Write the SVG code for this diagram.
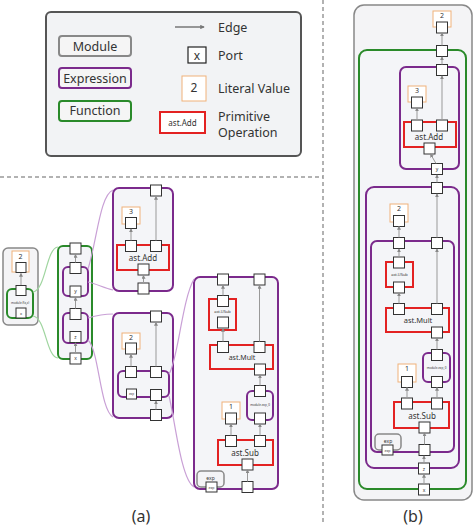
<svg xmlns="http://www.w3.org/2000/svg" width="474" height="527" viewBox="0 0 474 527">
<style>
text{font-family:"Noto Sans","Open Sans","DejaVu Sans",sans-serif;fill:#333;text-anchor:middle}
.lt{text-anchor:start;font-size:12.5px}
.mod{fill:#f4f4f6;stroke:#888;stroke-width:1.5}
.fn{fill:#f4f5f8;stroke:#2a8a2a;stroke-width:2}
.ex{fill:#f4f5f8;stroke:#7b2a8c;stroke-width:2}
.op{fill:#f4f5f8;stroke:#e32222;stroke-width:2}
.lit{fill:#fff;stroke:#f0b27a;stroke-width:1}
.port{fill:#fff;stroke:#333;stroke-width:1}
.e{stroke:#999;stroke-width:1;fill:none;marker-end:url(#ah)}
.zg{stroke:#9fd59f;stroke-width:1.2;fill:none}
.zp{stroke:#c9a0d6;stroke-width:1.2;fill:none}
.dash{stroke:#999;stroke-width:1.5;stroke-dasharray:4,3;fill:none}
.t{font-size:7px}
.tiny{font-size:3px}
</style>
<defs>
<marker id="ah" viewBox="0 0 6 6" refX="5" refY="3" markerWidth="4" markerHeight="4" orient="auto">
<path d="M0,0L6,3L0,6z" fill="#888"/>
</marker>
<marker id="ahl" viewBox="0 0 6 6" refX="5" refY="3" markerWidth="3" markerHeight="3" orient="auto">
<path d="M0,0L6,3L0,6z" fill="#777"/>
</marker>
</defs>

<g id="dividers">
<path class="dash" d="M0,177H323"/>
<path class="dash" d="M323,0V522"/>
</g>

<g id="legend">
<rect x="46" y="12" width="255" height="144" rx="5" fill="#f2f3f5" stroke="#555" stroke-width="2"/>
<rect x="59" y="36" width="72" height="20" rx="3" fill="#f5f5f5" stroke="#888" stroke-width="2"/>
<text x="95" y="51" style="font-size:12.5px">Module</text>
<rect x="59" y="68" width="72" height="20" rx="3" fill="#f5f5f5" stroke="#7b2a8c" stroke-width="2"/>
<text x="95" y="83" style="font-size:12.5px">Expression</text>
<rect x="59" y="101" width="72" height="20" rx="3" fill="#f5f5f5" stroke="#2a8a2a" stroke-width="2"/>
<text x="95" y="115" style="font-size:12.5px">Function</text>
<path d="M175,27H204" stroke="#777" stroke-width="1.5" marker-end="url(#ahl)"/>
<text class="lt" x="218" y="32">Edge</text>
<rect x="188" y="47" width="18" height="16" fill="#fff" stroke="#222" stroke-width="1.2"/>
<text x="197" y="60" style="font-size:12px">x</text>
<text class="lt" x="218" y="60">Port</text>
<rect x="182" y="76" width="24" height="25" class="lit"/>
<text x="194" y="92" style="font-size:12px">2</text>
<text class="lt" x="218" y="93">Literal Value</text>
<rect x="160" y="112" width="45" height="21" fill="#fff" stroke="#e32222" stroke-width="2"/>
<text x="182.5" y="126" style="font-size:8px">ast.Add</text>
<text class="lt" x="218" y="121">Primitive</text>
<text class="lt" x="218" y="137">Operation</text>
</g>

<g id="a-module">
<rect class="mod" x="3" y="248" width="35" height="77" rx="5"/>
<rect class="lit" x="12" y="251" width="17" height="21"/>
<text class="t" x="20.5" y="258.5">2</text>
<rect class="port" x="16" y="262.5" width="10" height="10"/>
</g>
<g id="a-module-f">
<rect class="fn" x="7" y="289" width="26" height="29" rx="5"/>
<rect class="port" x="16" y="285.5" width="10" height="10"/>
<text class="tiny" x="20" y="304">module.f(x,z)</text>
<rect class="port" x="16" y="308" width="10" height="10"/>
<text class="tiny" x="21" y="314.5" style="font-size:4px">x</text>
</g>

<g id="a-function">
<rect class="fn" x="58" y="246" width="34" height="113" rx="5"/>
<rect class="port" x="70" y="243" width="11" height="11"/>
<rect class="port" x="70" y="353" width="11" height="11"/>
<text x="75.5" y="360" style="font-size:5px">x</text>
</g>
<g id="a-expr1">
<rect class="ex" x="63" y="267" width="25" height="29" rx="5"/>
<rect class="port" x="70" y="262.5" width="11" height="11"/>
<rect class="port" x="70" y="286" width="11" height="11"/>
<text x="75.5" y="293" style="font-size:5px">y</text>
</g>
<g id="a-expr2">
<rect class="ex" x="63" y="313" width="25" height="30" rx="5"/>
<rect class="port" x="70" y="308.5" width="11" height="11"/>
<rect class="port" x="70" y="331.5" width="11" height="11"/>
<text x="75.5" y="338.5" style="font-size:5px">z</text>
</g>

<g id="a-add-expr">
<rect class="ex" x="113" y="188" width="60" height="103" rx="6"/>
<rect class="port" x="150.5" y="185" width="11" height="11"/>
<rect class="lit" x="122" y="207" width="18" height="17"/>
<text class="t" x="131" y="214">3</text>
<rect class="port" x="125.5" y="217.5" width="11" height="11"/>
<rect class="port" x="138" y="283" width="11" height="11"/>
</g>
<g id="a-add">
<rect class="op" x="117" y="245" width="52" height="25"/>
<rect class="port" x="125.5" y="240.5" width="11" height="11"/>
<rect class="port" x="150.5" y="240.5" width="11" height="11"/>
<rect class="port" x="138" y="264" width="11" height="11"/>
<text x="143" y="261" style="font-size:8px">ast.Add</text>
</g>

<g id="a-expr-2">
<rect class="ex" x="113" y="313" width="60" height="105" rx="6"/>
<rect class="port" x="150.5" y="311" width="11" height="11"/>
<rect class="lit" x="122" y="333" width="18" height="16"/>
<text class="t" x="131" y="340">2</text>
<rect class="port" x="125.5" y="343" width="11" height="11"/>
<rect class="port" x="150.5" y="409.5" width="11" height="11"/>
</g>
<g id="a-inner-expr">
<rect class="ex" x="118" y="371" width="51" height="26" rx="5"/>
<rect class="port" x="125.5" y="366.5" width="11" height="11"/>
<rect class="port" x="150.5" y="366.5" width="11" height="11"/>
<rect class="port" x="126.5" y="389" width="10" height="10"/>
<text class="tiny" x="131.5" y="395">exp</text>
<rect class="port" x="150.5" y="389.5" width="11" height="11"/>
</g>

<g id="a-big-expr">
<rect class="ex" x="194" y="277" width="84" height="212" rx="6"/>
<rect class="port" x="217.5" y="274" width="11" height="11"/>
<rect class="port" x="254" y="274" width="11" height="11"/>
<rect class="port" x="242" y="481.5" width="11" height="11"/>
</g>
<g id="a-usub">
<rect class="op" x="209" y="299" width="27" height="31"/>
<rect class="port" x="217.5" y="295.5" width="11" height="11"/>
<rect class="port" x="217.5" y="317" width="11" height="11"/>
<text class="tiny" x="222.5" y="313" style="font-size:4px">ast.USub</text>
</g>
<g id="a-mult">
<rect class="op" x="210" y="345" width="63" height="24"/>
<rect class="port" x="217.5" y="341.5" width="11" height="11"/>
<rect class="port" x="254" y="341.5" width="11" height="11"/>
<rect class="port" x="254.5" y="364" width="11" height="11"/>
<text x="242" y="360" style="font-size:7px">ast.Mult</text>
</g>
<g id="a-module-exp">
<rect class="ex" x="247" y="391" width="26" height="29" rx="5"/>
<rect class="port" x="254.5" y="385.5" width="11" height="11"/>
<rect class="port" x="254.5" y="413" width="11" height="11"/>
<text class="tiny" x="260" y="406">module.exp_0</text>
</g>
<g id="a-lit1">
<rect class="lit" x="222" y="402" width="18" height="17"/>
<text class="t" x="231" y="409">1</text>
<rect class="port" x="225.5" y="413" width="11" height="11"/>
</g>
<g id="a-sub">
<rect class="op" x="218" y="440" width="55" height="25"/>
<rect class="port" x="225.5" y="435.5" width="11" height="11"/>
<rect class="port" x="254.5" y="435.5" width="11" height="11"/>
<rect class="port" x="242" y="459" width="11" height="11"/>
<text x="245" y="456" style="font-size:8px">ast.Sub</text>
</g>
<g id="a-exp">
<rect class="mod" x="197" y="471" width="27" height="16" rx="4"/>
<text x="210.5" y="479.5" style="font-size:5px">exp</text>
<rect class="port" x="206" y="482" width="11" height="10"/>
<text class="tiny" x="211.5" y="488.5" style="font-size:3.5px">exp</text>
</g>

<text x="141" y="522" style="font-size:16px">(a)</text>

<g id="b-module">
<rect class="mod" x="354" y="5" width="118" height="495" rx="10"/>
<rect class="lit" x="433" y="11" width="18" height="16"/>
<text class="t" x="442" y="18">2</text>
<rect class="port" x="436.5" y="22" width="11" height="11"/>
</g>
<g id="b-function">
<rect class="fn" x="359" y="50" width="107" height="439" rx="8"/>
<rect class="port" x="436.5" y="45.5" width="11" height="11"/>
<rect class="port" x="418.5" y="484" width="11" height="11"/>
<text x="424" y="491.5" style="font-size:5px">x</text>
</g>
<g id="b-add-expr">
<rect class="ex" x="400" y="67" width="59" height="102" rx="6"/>
<rect class="port" x="436.5" y="64.5" width="11" height="11"/>
<rect class="lit" x="408" y="86" width="18" height="16"/>
<text class="t" x="417" y="93">3</text>
<rect class="port" x="411.5" y="97" width="11" height="11"/>
<rect class="port" x="431.5" y="163.5" width="11" height="11"/>
<text x="437" y="171" style="font-size:5px">y</text>
</g>
<g id="b-add">
<rect class="op" x="404" y="122" width="52" height="25"/>
<rect class="port" x="411.5" y="120" width="11" height="11"/>
<rect class="port" x="436.5" y="120" width="11" height="11"/>
<rect class="port" x="424" y="143" width="11" height="11"/>
<text x="429" y="140" style="font-size:8px">ast.Add</text>
</g>
<g id="b-expr2">
<rect class="ex" x="366" y="187" width="93" height="281" rx="8"/>
<rect class="port" x="431.5" y="182.5" width="11" height="11"/>
<rect class="lit" x="390" y="204" width="18" height="18"/>
<text class="t" x="399" y="211">2</text>
<rect class="port" x="393.5" y="215.5" width="11" height="11"/>
<rect class="port" x="418.5" y="463" width="11" height="11"/>
<text x="424" y="470.5" style="font-size:5px">z</text>
</g>
<g id="b-inner-expr">
<rect class="ex" x="371" y="241" width="83" height="211" rx="6"/>
<rect class="port" x="393.5" y="237.5" width="11" height="11"/>
<rect class="port" x="431.5" y="237.5" width="11" height="11"/>
<rect class="port" x="419" y="444.5" width="11" height="11"/>
</g>
<g id="b-usub">
<rect class="op" x="386" y="262" width="27" height="25"/>
<rect class="port" x="393.5" y="257" width="11" height="11"/>
<rect class="port" x="393.5" y="282" width="11" height="11"/>
<text class="tiny" x="399.5" y="276" style="font-size:4px">ast.USub</text>
</g>
<g id="b-mult">
<rect class="op" x="386" y="308" width="63" height="24"/>
<rect class="port" x="393.5" y="303.5" width="11" height="11"/>
<rect class="port" x="431.5" y="303.5" width="11" height="11"/>
<rect class="port" x="431.5" y="327" width="11" height="11"/>
<text x="418" y="323" style="font-size:7.5px">ast.Mult</text>
</g>
<g id="b-module-exp">
<rect class="ex" x="423" y="353" width="27" height="29" rx="5"/>
<rect class="port" x="431.5" y="349.5" width="11" height="11"/>
<rect class="port" x="431.5" y="376.5" width="11" height="11"/>
<text class="tiny" x="436.5" y="369">module.exp_0</text>
</g>
<g id="b-lit1">
<rect class="lit" x="398" y="364" width="18" height="18"/>
<text class="t" x="407" y="371">1</text>
<rect class="port" x="401.5" y="376.5" width="11" height="11"/>
</g>
<g id="b-sub">
<rect class="op" x="394" y="402" width="55" height="26"/>
<rect class="port" x="401.5" y="398" width="11" height="11"/>
<rect class="port" x="431.5" y="398" width="11" height="11"/>
<rect class="port" x="419" y="422" width="11" height="11"/>
<text x="422" y="419" style="font-size:8px">ast.Sub</text>
</g>
<g id="b-exp">
<rect class="mod" x="375" y="434" width="26" height="16" rx="4"/>
<text x="388" y="443" style="font-size:5px">exp</text>
<rect class="port" x="382" y="445" width="11" height="10"/>
<text class="tiny" x="387.5" y="451.5" style="font-size:3.5px">exp</text>
</g>

<text x="413" y="522" style="font-size:16px">(b)</text>

<g id="connectors">
<path class="zg" d="M33,292C46,290 46,248 58,247"/>
<path class="zg" d="M33,316C46,318 46,357 58,358"/>
<path class="zp" d="M88,269C97,240 100,195 113,190"/>
<path class="zp" d="M88,282C97,284 104,288 113,290"/>
<path class="zp" d="M88,318C98,315 104,314 113,314"/>
<path class="zp" d="M88,340C99,350 100,410 113,417"/>
<path class="zp" d="M169,374C178,360 182,300 194,279"/>
<path class="zp" d="M169,396C175,420 181,480 194,487"/>
<path class="e" d="M21,285V273.5"/>
<path class="e" d="M75.5,352V343"/>
<path class="e" d="M75.5,308.5V297.5"/>
<path class="e" d="M75.5,262.5V254.5"/>
<path class="e" d="M143.5,283V275.5"/>
<path class="e" d="M131,240.5V229"/>
<path class="e" d="M156,240.5V196.5"/>
<path class="e" d="M156,409.5V401"/>
<path class="e" d="M131,366.5V354.5"/>
<path class="e" d="M156,366.5V322.5"/>
<path class="e" d="M247.5,481.5V470"/>
<path class="e" d="M231,435.5V424"/>
<path class="e" d="M260,435.5V424"/>
<path class="e" d="M260,385.5V375"/>
<path class="e" d="M223,341.5V328.5"/>
<path class="e" d="M223,295.5V285.5"/>
<path class="e" d="M259.5,341.5V285.5"/>
<path class="e" d="M424,484V474.5"/>
<path class="e" d="M424,463V456"/>
<path class="e" d="M424.5,444.5V433"/>
<path class="e" d="M407,398V387.5"/>
<path class="e" d="M437,398V387.5"/>
<path class="e" d="M437,349.5V338"/>
<path class="e" d="M399,303.5V293"/>
<path class="e" d="M399,257V249"/>
<path class="e" d="M437,303.5V249"/>
<path class="e" d="M399,237.5V226.5"/>
<path class="e" d="M437,237.5V194"/>
<path class="e" d="M437,182.5V175"/>
<path class="e" d="M436,163.5L430.5,154"/>
<path class="e" d="M417,120V108"/>
<path class="e" d="M442,120V76"/>
<path class="e" d="M442,64.5V57"/>
<path class="e" d="M442,45.5V33"/>
</g>
</svg>
